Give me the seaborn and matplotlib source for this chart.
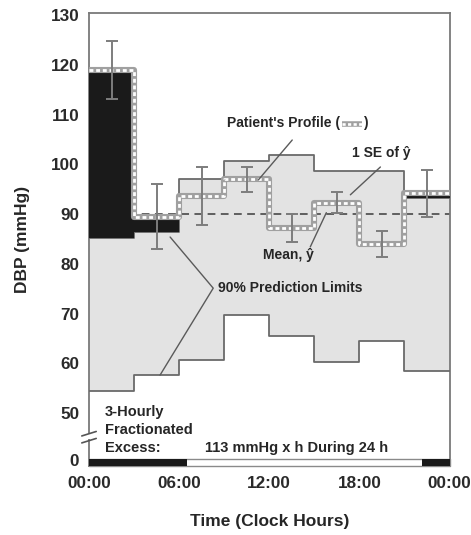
import numpy as np
import pandas as pd
import matplotlib
matplotlib.use("Agg")
import matplotlib.pyplot as plt
import matplotlib.transforms as mtransforms
import seaborn as sns

# 3-hourly periods (clock hours)
hours = [0, 3, 6, 9, 12, 15, 18, 21, 24]
# patient's diastolic profile (mmHg) and its standard error
patient = [119.0, 89.5, 93.6, 97.0, 87.2, 92.3, 84.0, 94.2]
se = [5.9, 6.5, 5.8, 2.5, 2.8, 2.1, 2.6, 4.7]
# 90% prediction limits of the reference population
upper = [85.3, 86.5, 97.1, 100.8, 102.0, 98.6, 98.6, 93.2]
lower = [54.3, 57.6, 60.6, 69.7, 65.5, 60.2, 64.5, 58.4]
mean_dbp = 90
excess_total = 113
# activity bar: dark = rest spans
rest_spans = [(0.0, 6.5), (22.2, 24.0)]
tick_hours = [0, 6, 12, 18, 24]
tick_labels = ["00:00", "06:00", "12:00", "18:00", "00:00"]
ytick_values = [50, 60, 70, 80, 90, 100, 110, 120, 130]

sns.set_style("white")
plt.rcParams["font.family"] = ["Liberation Sans", "DejaVu Sans"]

FS = 12.3
GRID_GRAY = "#6a6a6a"
FILL_GRAY = "#e3e3e3"
ZERO_POS = 40.5      # where "0" sits below the axis break
Y_BOTTOM = 39.3

fig = plt.figure(figsize=(4.71, 5.35), dpi=100)
ax = fig.add_axes([89 / 471, 1 - 466 / 535, 360.5 / 471, 453 / 535])

edges = np.array(hours, dtype=float)
centers = (edges[:-1] + edges[1:]) / 2
ext = lambda v: list(v) + [v[-1]]

# prediction band
ax.fill_between(edges, ext(lower), ext(upper), step="post",
                color=FILL_GRAY, lw=0, zorder=1)

# mean line
ax.axhline(mean_dbp, color="#555555", lw=1.3, dashes=(4.3, 3.0), zorder=2)

# limit outlines
steps = pd.DataFrame({"hour": edges, "upper": ext(upper), "lower": ext(lower),
                      "patient": ext(patient)})
sns.lineplot(data=steps, x="hour", y="upper", drawstyle="steps-post",
             color=GRID_GRAY, lw=1.3, ax=ax, zorder=3)
sns.lineplot(data=steps, x="hour", y="lower", drawstyle="steps-post",
             color=GRID_GRAY, lw=1.3, ax=ax, zorder=3)

# excess above the upper limit
pat = np.array(patient)
upp = np.array(upper)
exc = pat > upp
ax.bar(centers[exc], (pat - upp)[exc], bottom=upp[exc], width=3,
       color="#1a1a1a", lw=0, zorder=4)

# patient's profile as a chained band
sns.lineplot(data=steps, x="hour", y="patient", drawstyle="steps-post",
             color="#a0a0a0", lw=4.4, ax=ax, zorder=5)
sns.lineplot(data=steps, x="hour", y="patient", drawstyle="steps-post",
             color="white", lw=2.0, ax=ax, zorder=6)
ax.lines[-1].set_dashes((1.4, 1.0))

# standard error bars
ax.errorbar(centers, patient, yerr=se, fmt="none", ecolor="#7d7d7d",
            elinewidth=1.4, capsize=4.3, capthick=1.4, zorder=7)

# activity bar along the time axis
bar_lo, bar_hi = Y_BOTTOM + 0.05, 40.8
ax.fill_between([0, 24], bar_lo, bar_hi, color="white", ec="#8a8a8a",
                lw=1.0, zorder=8, clip_on=False)
for a, b in rest_spans:
    ax.fill_between([a, b], bar_lo, bar_hi, color="#1a1a1a", lw=0,
                    zorder=9, clip_on=False)

# annotations
txt = dict(fontsize=10, fontweight="bold", color="#262626", zorder=10)
line = dict(color="#5a5a5a", lw=1.0, zorder=10)

ax.text(16.73, 108.3, "Patient's Profile (", ha="right", va="center", **txt)
ax.text(18.27, 108.3, ")", ha="left", va="center", **txt)
ax.plot([16.85, 18.15], [108.1, 108.1], color="#a0a0a0", lw=4.0,
        solid_capstyle="butt", zorder=10)
mini, = ax.plot([16.85, 18.15], [108.1, 108.1], color="white", lw=1.9,
                zorder=11)
mini.set_dashes((1.2, 0.9))
ax.plot([13.53, 11.27], [104.93, 96.88], **line)

ax.text(19.47, 102.3, "1 SE of ŷ", ha="center", va="center", **txt)
ax.plot([19.4, 17.4], [99.5, 93.9], **line)

ax.text(13.27, 81.8, "Mean, ŷ", ha="center", va="center", **txt)
ax.plot([14.73, 15.8], [83.4, 90.3], **line)

ax.text(8.6, 75.1, "90% Prediction Limits", ha="left", va="center", **txt)
ax.plot([5.4, 8.27, 4.73], [85.4, 75.1, 57.6], **line)

exc_txt = dict(fontsize=10.5, fontweight="bold", color="#262626", zorder=10)
ax.text(1.07, 50.2, "3-Hourly", ha="left", va="center", **exc_txt)
ax.text(1.07, 46.55, "Fractionated", ha="left", va="center", **exc_txt)
ax.text(1.07, 42.9, "Excess:", ha="left", va="center", **exc_txt)
ax.text(7.73, 42.9, f"{excess_total} mmHg x h During 24 h", ha="left",
        va="center", **exc_txt)

# axes
ax.set_xlim(0, 24)
ax.set_ylim(Y_BOTTOM, 130.5)
ax.set_xticks(tick_hours)
ax.set_xticklabels(tick_labels)
ax.set_xticks([3, 9, 15, 21], minor=True)
ax.set_yticks([ZERO_POS] + ytick_values)
ax.set_yticklabels(["0"] + [str(v) for v in ytick_values])
ax.tick_params(axis="both", which="both", direction="out", length=4,
               width=1.2, color="#7a7a7a", labelsize=FS, labelcolor="#2a2a2a",
               pad=3)
for lab in ax.get_xticklabels() + ax.get_yticklabels():
    lab.set_fontweight("bold")
for sp in ax.spines.values():
    sp.set_visible(True)
    sp.set_color("#7a7a7a")
    sp.set_linewidth(1.3)

ax.set_xlabel("Time (Clock Hours)", fontsize=12.5, fontweight="bold",
              color="#262626", labelpad=17)
ax.set_ylabel("DBP (mmHg)", fontsize=12.5, fontweight="bold", color="#262626",
              labelpad=15)

# axis break marks on the y-axis
trans = mtransforms.blended_transform_factory(ax.transAxes, ax.transData)
ax.fill_between([-0.012, 0.012], 44.7, 45.9, color="white", transform=trans,
                clip_on=False, zorder=12, lw=0)
for yb in (44.4, 45.8):
    ax.plot([-0.02, 0.02], [yb - 0.45, yb + 0.45], color="#555555", lw=1.2,
            transform=trans, clip_on=False, zorder=13)

fig.savefig("out.png", dpi=100)
